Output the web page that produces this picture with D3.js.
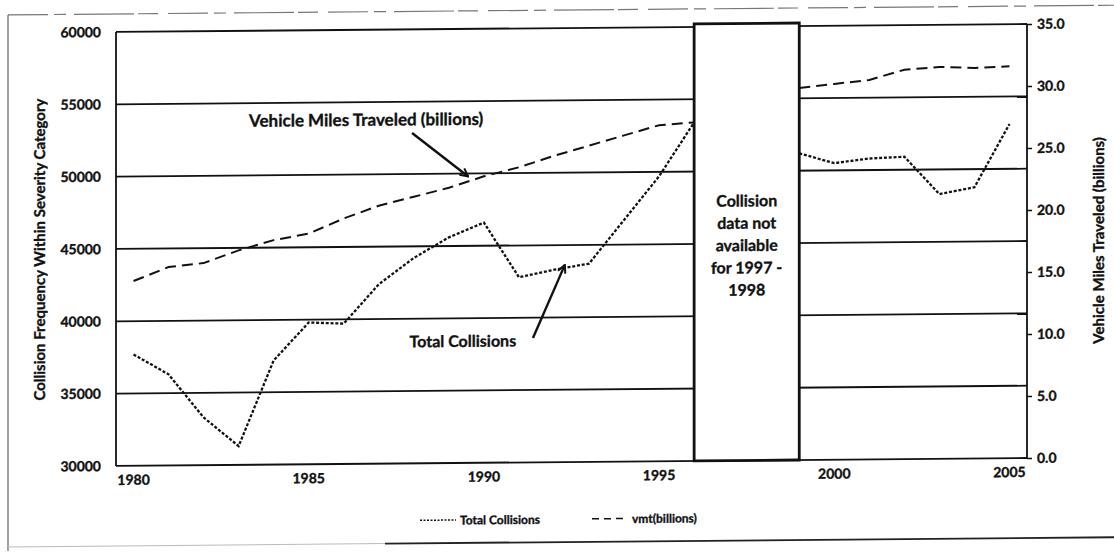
<!DOCTYPE html>
<html>
  <head>
    <meta charset="utf-8" />
    <script src="https://d3js.org/d3.v7.min.js"></script>
    <style>
        body {margin: 0; background: #fff;}
        text {font-family: Lato, "Open Sans", sans-serif; font-weight: 700; fill: #111; stroke: #111; stroke-width: 0.35px;}
    </style>
  </head>
  <body>
    <svg id="viz"></svg>
    <script>
        var width = 1114, height = 556;

        // chart values
        var years = [1980, 1981, 1982, 1983, 1984, 1985, 1986, 1987, 1988, 1989, 1990, 1991, 1992,
                     1993, 1994, 1995, 1996, 1997, 1998, 1999, 2000, 2001, 2002, 2003, 2004, 2005];
        var collisions = [37700, 36300, 33300, 31300, 37200, 39800, 39700, 42400, 44200, 45600, 46600, 42800, 43300,
                          43700, 46700, 49700, 53400, null, null, 51200, 50500, 50800, 50900, 48300, 48750, 53100];
        var vmt = [14.9, 16.0, 16.3, 17.3, 18.1, 18.6, 19.8, 20.8, 21.5, 22.2, 23.1, 23.8, 24.7,
                   25.5, 26.3, 27.1, 27.3, null, null, 30.0, 30.3, 30.6, 31.4, 31.6, 31.5, 31.6];
        var yearTicks = [1980, 1985, 1990, 1995, 2000, 2005];
        var leftTicks = [30000, 35000, 40000, 45000, 50000, 55000, 60000];
        var rightTicks = [0, 5, 10, 15, 20, 25, 30, 35];
        var gapYears = [1996, 1999];
        var gapText = ["Collision", "data not", "available", "for 1997 -", "1998"];

        var svg = d3.select("#viz").attr("width", width).attr("height", height);

        // the scan is slightly skewed, so the whole picture is sheared a touch
        var chart = svg.append("g")
            .attr("transform", "matrix(1,-0.0087,0,1,0," + (0.0087 * 570) + ")");

        var pLeft = 116, pRight = 1027, pTop = 28, pBottom = 462;

        var x = d3.scaleBand().domain(years).range([pLeft, pRight]);
        function xc(d) { return x(d) + x.bandwidth() / 2; }
        var y = d3.scaleLinear().domain([30000, 60000]).range([pBottom, pTop]);
        var y2 = d3.scaleLinear().domain([0, 35]).range([pBottom, pTop]);

        // outer frame of the figure
        chart.append("line").attr("x1", 8).attr("x2", 1114).attr("y1", 10).attr("y2", 10)
            .attr("stroke", "#777").attr("stroke-width", 1.2).attr("stroke-dasharray", "40,6,12,8,60,4,20,10");
        chart.append("line").attr("x1", 8).attr("x2", 8).attr("y1", 10).attr("y2", 546)
            .attr("stroke", "#444").attr("stroke-width", 1);
        chart.append("line").attr("x1", 8).attr("x2", 385).attr("y1", 542).attr("y2", 542)
            .attr("stroke", "#bbb").attr("stroke-width", 1);
        chart.append("line").attr("x1", 385).attr("x2", 1114).attr("y1", 542).attr("y2", 542)
            .attr("stroke", "#222").attr("stroke-width", 1.8);

        // gridlines
        chart.append("g").selectAll("line")
            .data(leftTicks)
            .enter().append("line")
            .attr("x1", pLeft).attr("x2", pRight)
            .attr("y1", function(d) { return y(d); })
            .attr("y2", function(d) { return y(d); })
            .attr("stroke", "#111").attr("stroke-width", 1.8);

        // axis lines
        chart.append("line").attr("x1", pLeft).attr("x2", pLeft).attr("y1", pTop).attr("y2", pBottom)
            .attr("stroke", "#111").attr("stroke-width", 1.8);
        chart.append("line").attr("x1", pRight).attr("x2", pRight).attr("y1", pTop).attr("y2", pBottom)
            .attr("stroke", "#111").attr("stroke-width", 1.8);

        var lineC = d3.line()
            .defined(function(d, i) { return collisions[i] !== null; })
            .x(function(d) { return xc(d); })
            .y(function(d, i) { return y(collisions[i]); });
        var lineV = d3.line()
            .defined(function(d, i) { return vmt[i] !== null; })
            .x(function(d) { return xc(d); })
            .y(function(d, i) { return y2(vmt[i]); });

        chart.append("path").datum(years).attr("d", lineC)
            .attr("fill", "none").attr("stroke", "#111").attr("stroke-width", 2.3)
            .attr("stroke-dasharray", "3,1.8");
        chart.append("path").datum(years).attr("d", lineV)
            .attr("fill", "none").attr("stroke", "#111").attr("stroke-width", 2)
            .attr("stroke-dasharray", "11,6");

        // box over the missing years
        chart.append("rect")
            .attr("x", xc(gapYears[0])).attr("y", pTop - 3)
            .attr("width", xc(gapYears[1]) - xc(gapYears[0]))
            .attr("height", pBottom - pTop + 3)
            .attr("fill", "#fff").attr("stroke", "#111").attr("stroke-width", 2.8);

        var gx = (xc(gapYears[0]) + xc(gapYears[1])) / 2;
        chart.append("g").selectAll("text")
            .data(gapText)
            .enter().append("text")
            .attr("x", gx)
            .attr("y", function(d, i) { return 208 + i * 22.3; })
            .attr("text-anchor", "middle")
            .attr("font-size", 16)
            .text(function(d) { return d; });

        // axes
        var axL = chart.append("g").attr("transform", "translate(" + pLeft + ",0)")
            .call(d3.axisLeft(y).tickValues(leftTicks).tickFormat(d3.format("d")).tickSize(0).tickPadding(15));
        var axR = chart.append("g").attr("transform", "translate(" + pRight + ",0)")
            .call(d3.axisRight(y2).tickValues(rightTicks).tickFormat(d3.format(".1f")).tickSize(5).tickPadding(5));
        var axB = chart.append("g").attr("transform", "translate(0," + pBottom + ")")
            .call(d3.axisBottom(x).tickValues(yearTicks).tickSize(0).tickPadding(9));
        [axL, axR, axB].forEach(function(a) {
            a.select(".domain").remove();
            a.attr("font-family", null).attr("font-size", 14);
            a.selectAll("line").attr("stroke", "#111").attr("stroke-width", 1.6);
            a.selectAll("text").attr("fill", "#111");
        });

        // axis titles
        chart.append("text")
            .attr("transform", "translate(45," + ((pTop + pBottom) / 2) + ") rotate(-90)")
            .attr("text-anchor", "middle").attr("font-size", 15)
            .text("Collision Frequency Within Severity Category");
        chart.append("text")
            .attr("transform", "translate(1104," + ((pTop + pBottom) / 2) + ") rotate(-90)")
            .attr("text-anchor", "middle").attr("font-size", 15)
            .text("Vehicle Miles Traveled (billions)");

        // annotations with arrows
        svg.append("defs").append("marker")
            .attr("id", "head").attr("viewBox", "0 0 10 10")
            .attr("refX", 9).attr("refY", 5)
            .attr("markerWidth", 10).attr("markerHeight", 10)
            .attr("markerUnits", "userSpaceOnUse")
            .attr("orient", "auto")
            .append("path").attr("d", "M1,1 L9,5 L1,9")
            .attr("fill", "none").attr("stroke", "#111").attr("stroke-width", 2);

        var notes = [
            {text: "Vehicle Miles Traveled (billions)", size: 17, year: 1986.64, value: 53360, from: [1987.95, 52840], to: [1989.55, 49800]},
            {text: "Total Collisions", size: 16, year: 1989.4, value: 38020, from: [1991.4, 38590], to: [1992.31, 43630]}
        ];
        function px(yr) { return xc(1980) + (yr - 1980) * x.step(); }

        chart.append("g").selectAll("text")
            .data(notes)
            .enter().append("text")
            .attr("x", function(d) { return px(d.year); })
            .attr("y", function(d) { return y(d.value); })
            .attr("text-anchor", "middle")
            .attr("font-size", function(d) { return d.size; })
            .text(function(d) { return d.text; });

        chart.append("g").selectAll("line")
            .data(notes)
            .enter().append("line")
            .attr("x1", function(d) { return px(d.from[0]); })
            .attr("y1", function(d) { return y(d.from[1]); })
            .attr("x2", function(d) { return px(d.to[0]); })
            .attr("y2", function(d) { return y(d.to[1]); })
            .attr("stroke", "#111").attr("stroke-width", 2.4)
            .attr("marker-end", "url(#head)");

        // legend
        var legend = [
            {label: "Total Collisions", dash: "2,1.5", x: 420},
            {label: "vmt(billions)", dash: "7,5", x: 592}
        ];
        var lg = chart.append("g").selectAll("g")
            .data(legend)
            .enter().append("g")
            .attr("transform", function(d) { return "translate(" + d.x + ",519)"; });
        lg.append("line").attr("x1", 0).attr("x2", 36).attr("y1", 0).attr("y2", 0)
            .attr("stroke", "#111").attr("stroke-width", 1.5)
            .attr("stroke-dasharray", function(d) { return d.dash; });
        lg.append("text").attr("x", 40).attr("y", 4.5)
            .attr("font-size", 12)
            .text(function(d) { return d.label; });
    </script>
  </body>
</html>
